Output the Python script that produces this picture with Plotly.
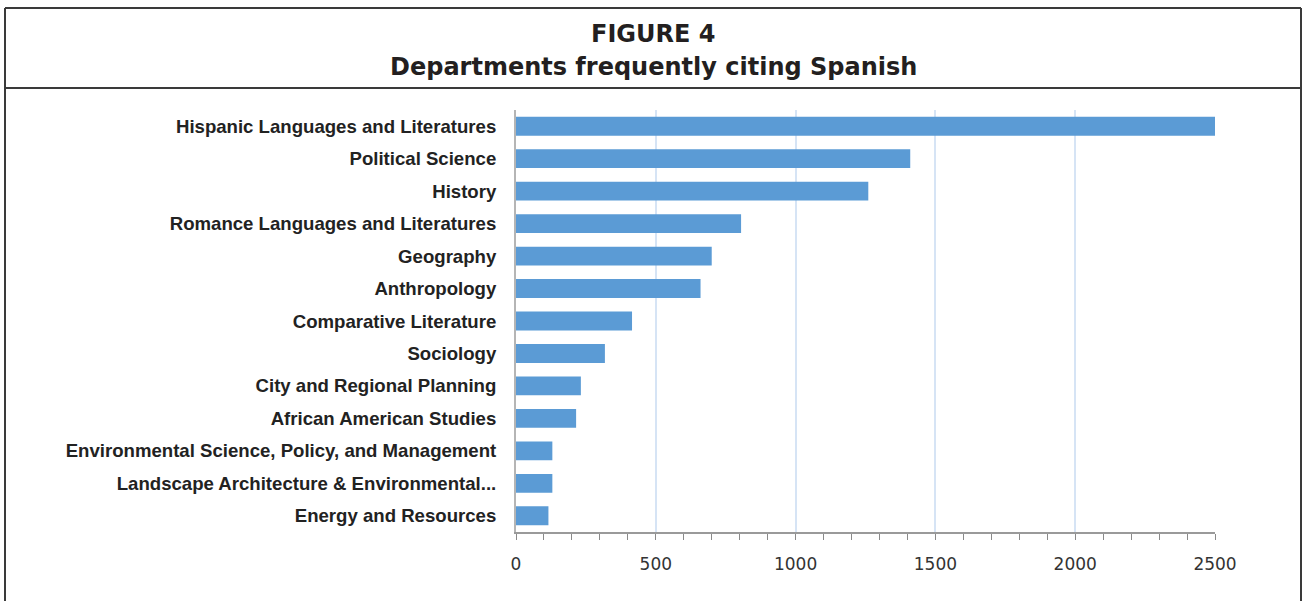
import plotly.graph_objects as go

departments = [
    "Hispanic Languages and Literatures",
    "Political Science",
    "History",
    "Romance Languages and Literatures",
    "Geography",
    "Anthropology",
    "Comparative Literature",
    "Sociology",
    "City and Regional Planning",
    "African American Studies",
    "Environmental Science, Policy, and Management",
    "Landscape Architecture & Environmental...",
    "Energy and Resources",
]
citations = [2500, 1410, 1260, 805, 700, 660, 415, 318, 232, 215, 130, 130, 116]
tick_values = [0, 500, 1000, 1500, 2000, 2500]

W, H = 1304, 601
L, R, T, B = 516, 1215, 110, 532  # plot area in pixels


def px(x):
    return (x - L) / (R - L)


def py(y):
    return (B - y) / (B - T)


fig = go.Figure(
    go.Bar(
        x=citations,
        y=departments,
        orientation="h",
        marker=dict(color="#5b9bd5", line=dict(width=0)),
        hoverinfo="x+y",
    )
)

frame = dict(color="#3a3a3a", width=2)
shapes = [
    dict(type="line", xref="paper", yref="paper", x0=px(5), x1=px(1301), y0=py(8), y1=py(8), line=frame),
    dict(type="line", xref="paper", yref="paper", x0=px(5), x1=px(1301), y0=py(88), y1=py(88), line=frame),
    dict(type="line", xref="paper", yref="paper", x0=px(5), x1=px(5), y0=py(8), y1=py(620), line=frame),
    dict(type="line", xref="paper", yref="paper", x0=px(1301), x1=px(1301), y0=py(8), y1=py(620), line=frame),
]

title_font = dict(family="DejaVu Sans", size=24, color="#231f20")
annotations = [
    dict(text="<b>FIGURE 4</b>", x=px(653), y=py(34), xref="paper", yref="paper",
         showarrow=False, font=title_font, xanchor="center", yanchor="middle"),
    dict(text="<b>Departments frequently citing Spanish</b>", x=px(653), y=py(67), xref="paper",
         yref="paper", showarrow=False, font=title_font, xanchor="center", yanchor="middle"),
]

fig.update_layout(
    width=W,
    height=H,
    margin=dict(l=L, r=W - R, t=T, b=H - B, pad=0),
    paper_bgcolor="white",
    plot_bgcolor="white",
    bargap=0.42,
    showlegend=False,
    shapes=shapes,
    annotations=annotations,
    xaxis=dict(
        range=[0, 2500],
        tickvals=tick_values,
        ticktext=[str(v) for v in tick_values],
        showgrid=True,
        gridcolor="#d6e4f5",
        gridwidth=2,
        zeroline=False,
        showline=True,
        linecolor="#9a9a9a",
        linewidth=2,
        ticks="outside",
        ticklen=6,
        tickcolor="#8a8a8a",
        minor=dict(dtick=100, tick0=0, ticks="outside", ticklen=6, tickcolor="#8a8a8a", showgrid=False),
        tickfont=dict(family="DejaVu Sans", size=17, color="#333333"),
        ticklabelstandoff=10,
        fixedrange=True,
    ),
    yaxis=dict(
        autorange="reversed",
        showgrid=False,
        zeroline=False,
        showline=True,
        linecolor="#b5b5b5",
        linewidth=2,
        ticks="",
        ticklabelstandoff=14,
        tickfont=dict(family="Liberation Sans", size=18.6, color="#222222", weight="bold"),
        fixedrange=True,
    ),
)

fig.write_html("out.html")
